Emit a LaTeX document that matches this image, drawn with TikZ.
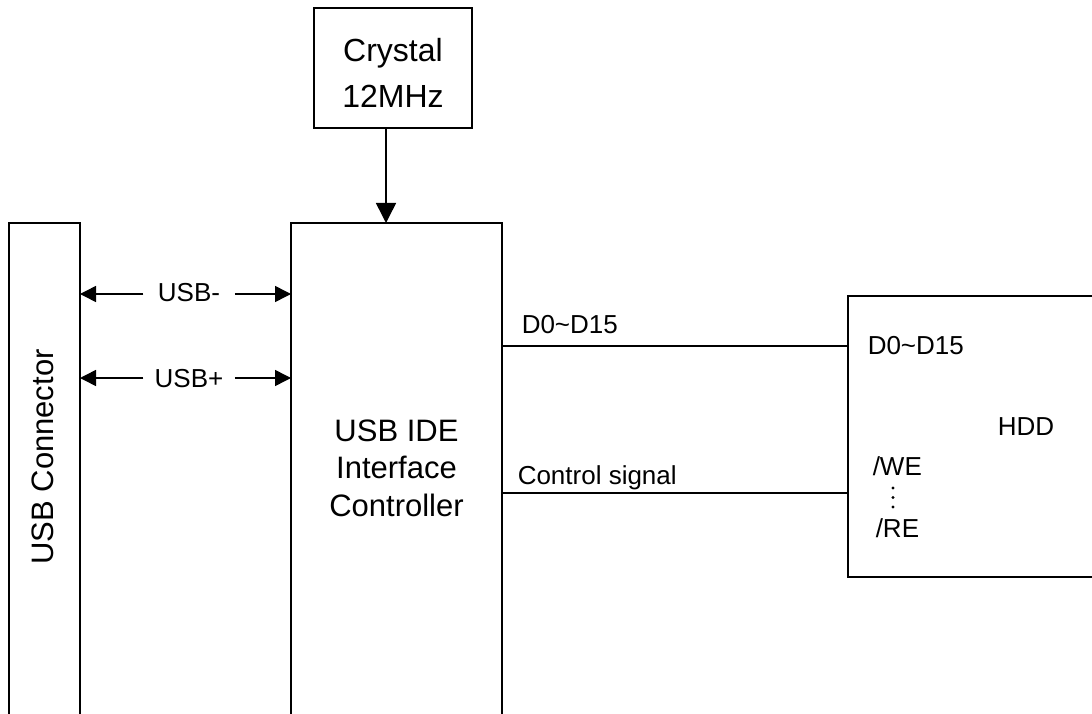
\documentclass[tikz,border=0pt]{standalone}
\usepackage{fontspec}
\setmainfont{Liberation Sans}
\usetikzlibrary{arrows.meta}
\begin{document}
\begin{tikzpicture}[x=1pt,y=-1pt,line width=1.5pt,
  blank/.style={inner sep=0pt,outer sep=0pt},
  boxnode/.style={draw,inner sep=0pt,outer sep=0pt},
  bigtext/.style={inner sep=0pt,align=center,font=\fontsize{31}{37.7}\selectfont},
  smalltext/.style={inner sep=0pt,anchor=base west,font=\fontsize{26}{31}\selectfont},
  arrowlabel/.style={inner sep=0pt,minimum width=90pt,font=\fontsize{26}{31}\selectfont},
  bigtip/.style={-{Triangle[length=20pt,width=20pt]}},
  smalltip/.style={-{Triangle[length=16pt,width=16pt]}}]
\path[use as bounding box] (0,0) rectangle (1092,714);
\clip (0,0) rectangle (1092,714);

% Crystal
\node[boxnode,minimum width=158pt,minimum height=120pt] (crystal) at (393,68) {};
\node[bigtext,font=\fontsize{32}{46}\selectfont] (crystaltext) at (393,73.4) {Crystal\\12MHz};

% USB connector (open at bottom)
\node[blank,minimum width=71pt,minimum height=511pt] (conn) at (44.5,478.5) {};
\draw (conn.south west) -- (conn.north west) -- (conn.north east) -- (conn.south east);
\node[bigtext,rotate=90] (conntext) at (42.5,457) {USB Connector};

% Controller (open at bottom)
\node[blank,minimum width=211pt,minimum height=511pt] (ctrl) at (396.5,478.5) {};
\draw (ctrl.south west) -- (ctrl.north west) -- (ctrl.north east) -- (ctrl.south east);
\node[bigtext] (ctrltext) at (396.5,468.2) {USB IDE\\Interface\\Controller};

% HDD
\node[boxnode,minimum width=264pt,minimum height=281pt] (hdd) at (980,436.5) {};
\node[smalltext] (hddd) at (867,354) {D0\textasciitilde D15};
\node[smalltext] (hddname) at (997,435) {HDD};
\node[smalltext] (hddwe) at (872,475) {/WE};
\node[smalltext] (hddre) at (875,537) {/RE};
\fill (893,488) circle (1.6pt) (893,497.5) circle (1.6pt) (893,507) circle (1.6pt);

% crystal arrow
\draw[bigtip] ([xshift=-7pt]crystal.south) -- ([xshift=-7pt]crystal.south |- ctrl.north);

% USB arrows
\node[arrowlabel] (usbm) at (189,293) {USB-};
\node[arrowlabel] (usbp) at (189,379) {USB+};
\draw[smalltip] (usbm.west |- 0,294) -- (conn.east |- 0,294);
\draw[smalltip] (usbm.east |- 0,294) -- (ctrl.west |- 0,294);
\draw[smalltip] (usbp.west |- 0,378) -- (conn.east |- 0,378);
\draw[smalltip] (usbp.east |- 0,378) -- (ctrl.west |- 0,378);

% bus lines
\draw (ctrl.east |- 0,346) -- (hdd.west |- 0,346);
\draw (ctrl.east |- 0,493) -- (hdd.west |- 0,493);
\node[smalltext] (lbld) at (521,333) {D0\textasciitilde D15};
\node[smalltext] (lblc) at (517,484) {Control signal};
\end{tikzpicture}
\end{document}
